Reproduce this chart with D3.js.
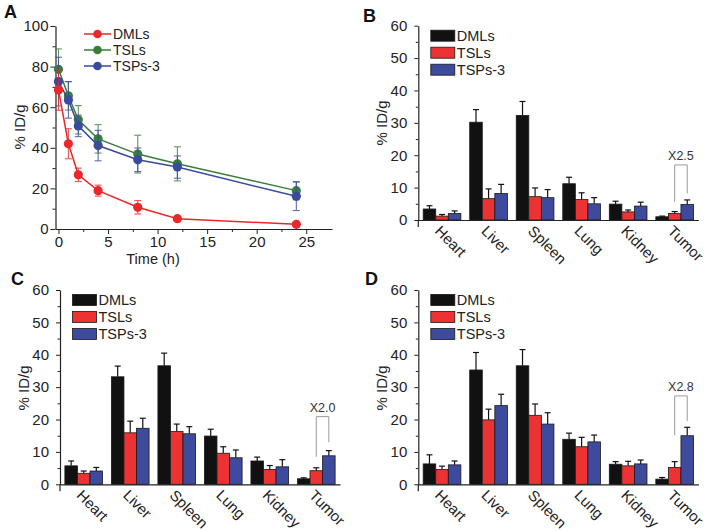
<!DOCTYPE html>
<html>
<head>
<meta charset="utf-8">
<script src="https://cdn.jsdelivr.net/npm/d3@7"></script>
<style>
  body { margin: 0; background: #fff; }
  svg { display: block; font-family: "Liberation Sans", Arial, sans-serif; }
</style>
</head>
<body>
<div id="chart"></div>
<script>
// ---- Data: panel A (blood clearance) ----
const times = [0, 1, 2, 4, 8, 12, 24]
const aDMLs = [68.5, 42, 26.7, 18.9, 10.7, 5.1, 2.3]
const aDMLsErr = [10, 7.4, 3.3, 2.7, 3.3, 1.0, 1.0]
const aTSLs = [78.7, 65.6, 53.8, 44.4, 36.9, 32.1, 18.9]
const aTSLsErr = [10, 7, 7, 7, 9.3, 8.4, 4.5]
const aTSPs = [72.6, 63.6, 50.8, 41.1, 34.1, 30.5, 16.1]
const aTSPsErr = [12, 9, 5.3, 7.5, 5.8, 5.5, 7]

// ---- Data: panels B, C, D (organ distribution) ----
const organs = ['Heart', 'Liver', 'Spleen', 'Lung', 'Kidney', 'Tumor']
const seriesNames = ['DMLs', 'TSLs', 'TSPs-3']

const bDMLs = [3.4, 30.2, 32.3, 11.2, 4.9, 1.0]
const bDMLsErr = [1.0, 3.9, 4.3, 2.0, 0.9, 0.2]
const bTSLs = [1.2, 6.6, 7.2, 6.3, 2.5, 2.0]
const bTSLsErr = [0.5, 3.0, 2.7, 2.1, 0.6, 0.6]
const bTSPs = [2.0, 8.2, 6.9, 5.0, 4.3, 4.8]
const bTSPsErr = [0.8, 2.8, 2.5, 1.9, 1.2, 1.4]

const cDMLs = [5.7, 33.2, 36.6, 14.9, 7.2, 1.7]
const cDMLsErr = [1.5, 3.3, 3.9, 2.1, 1.2, 0.3]
const cTSLs = [3.4, 15.9, 16.3, 9.6, 4.6, 4.2]
const cTSLsErr = [0.7, 3.6, 2.3, 2.0, 1.2, 0.9]
const cTSPs = [4.1, 17.3, 15.6, 8.2, 5.4, 8.8]
const cTSPsErr = [1.1, 3.1, 2.2, 2.4, 2.2, 1.6]

const dDMLs = [6.3, 35.3, 36.6, 13.9, 6.2, 1.6]
const dDMLsErr = [2.8, 5.4, 5.0, 1.9, 0.8, 0.5]
const dTSLs = [4.6, 19.9, 21.3, 11.6, 5.7, 5.2]
const dTSLsErr = [1.0, 3.3, 3.5, 2.9, 1.4, 1.8]
const dTSPs = [6.0, 24.3, 18.6, 13.1, 6.3, 15.0]
const dTSPsErr = [1.2, 3.5, 3.5, 2.1, 1.2, 2.6]

// tumor ratio bracket: label, top, left foot, right foot (in % ID/g)
const ratioLabels = ['X2.5', 'X2.0', 'X2.8']
const ratioTop = [17.0, 20.9, 27.3]
const ratioLeft = [5.6, 8.5, 15.2]
const ratioRight = [8.2, 13.0, 19.5]

const yTicksA = [0, 20, 40, 60, 80, 100]
const xTicksA = [0, 5, 10, 15, 20, 25]
const yTicksBar = [0, 10, 20, 30, 40, 50, 60]

// ---- Styles ----
const lineColors = { DMLs: '#e8282b', TSLs: '#3a7d3a', 'TSPs-3': '#3a4a9c' }
const barColors = { DMLs: '#111111', TSLs: '#ec3232', 'TSPs-3': '#3e4a9c' }

const svg = d3.select('#chart')
  .append('svg')
  .attr('width', 708)
  .attr('height', 531)

function styleAxis(g, fontSize) {
  g.selectAll('text')
    .attr('font-family', '"Liberation Sans", Arial, sans-serif')
    .attr('font-size', fontSize)
    .attr('fill', '#222')
  g.selectAll('line').attr('stroke', '#222')
  g.select('.domain').attr('stroke', '#222').attr('stroke-width', 1.2)
}

function panelLetter(txt, x, y) {
  svg.append('text')
    .attr('x', x).attr('y', y)
    .attr('font-size', 18)
    .attr('font-weight', 'bold')
    .attr('fill', '#111')
    .text(txt)
}

function yTitle(x, y) {
  svg.append('text')
    .attr('transform', `translate(${x},${y}) rotate(-90)`)
    .attr('text-anchor', 'middle')
    .attr('font-size', 15)
    .attr('fill', '#222')
    .text('% ID/g')
}

// ================= Panel A =================
{
  const left = 55.5, right = 332, top = 26, bottom = 229
  const x = d3.scaleLinear().domain([-0.3, 27.6]).range([left, right])
  const y = d3.scaleLinear().domain([0, 100]).range([bottom, top])

  // minor ticks
  svg.append('g')
    .attr('transform', `translate(${left},0)`)
    .call(d3.axisLeft(y).tickValues(d3.range(10, 100, 20)).tickSize(3).tickFormat(''))
    .call(g => { g.select('.domain').remove(); g.selectAll('line').attr('stroke', '#222') })
  svg.append('g')
    .attr('transform', `translate(0,${bottom})`)
    .call(d3.axisBottom(x).tickValues([2.5, 7.5, 12.5, 17.5, 22.5]).tickSize(3).tickFormat(''))
    .call(g => { g.select('.domain').remove(); g.selectAll('line').attr('stroke', '#222') })

  svg.append('g')
    .attr('transform', `translate(${left},0)`)
    .call(d3.axisLeft(y).tickValues(yTicksA).tickSize(5).tickSizeOuter(0).tickPadding(2))
    .call(g => styleAxis(g, 15))
  svg.append('g')
    .attr('transform', `translate(0,${bottom})`)
    .call(d3.axisBottom(x).tickValues(xTicksA).tickSize(5).tickSizeOuter(0).tickPadding(2))
    .call(g => styleAxis(g, 15))

  svg.append('text')
    .attr('x', 153).attr('y', 264)
    .attr('text-anchor', 'middle')
    .attr('font-size', 14.5)
    .attr('fill', '#222')
    .text('Time (h)')
  yTitle(25, 127)
  panelLetter('A', 4, 18)

  const series = [
    { name: 'TSLs', vals: aTSLs, errs: aTSLsErr },
    { name: 'TSPs-3', vals: aTSPs, errs: aTSPsErr },
    { name: 'DMLs', vals: aDMLs, errs: aDMLsErr }
  ]
  const line = d3.line().x(d => x(d.t)).y(d => y(d.v))

  series.forEach(s => {
    const pts = times.map((t, i) => ({ t, v: s.vals[i], e: s.errs[i] }))
    const col = lineColors[s.name]
    const g = svg.append('g')
    g.append('path')
      .datum(pts)
      .attr('d', line)
      .attr('fill', 'none')
      .attr('stroke', col)
      .attr('stroke-width', 1.5)
    const eb = g.selectAll('g.err').data(pts).join('g').attr('stroke', col).attr('stroke-width', 1.1).attr('opacity', 0.8)
    eb.append('line')
      .attr('x1', d => x(d.t)).attr('x2', d => x(d.t))
      .attr('y1', d => y(d.v - d.e)).attr('y2', d => y(d.v + d.e))
    eb.append('line')
      .attr('x1', d => x(d.t) - 3.5).attr('x2', d => x(d.t) + 3.5)
      .attr('y1', d => y(d.v + d.e)).attr('y2', d => y(d.v + d.e))
    eb.append('line')
      .attr('x1', d => x(d.t) - 3.5).attr('x2', d => x(d.t) + 3.5)
      .attr('y1', d => y(d.v - d.e)).attr('y2', d => y(d.v - d.e))
    g.selectAll('circle')
      .data(pts)
      .join('circle')
      .attr('cx', d => x(d.t))
      .attr('cy', d => y(d.v))
      .attr('r', 4.6)
      .attr('fill', col)
  })

  // legend
  const legRows = [34, 50, 66]
  seriesNames.forEach((name, i) => {
    const col = lineColors[name]
    const ly = legRows[i]
    svg.append('line')
      .attr('x1', 84).attr('x2', 111).attr('y1', ly).attr('y2', ly)
      .attr('stroke', col).attr('stroke-width', 1.5)
    svg.append('circle').attr('cx', 97.5).attr('cy', ly).attr('r', 4.3).attr('fill', col)
    svg.append('text')
      .attr('x', 113).attr('y', ly + 4.8)
      .attr('font-size', 14)
      .attr('fill', '#222')
      .text(name)
  })
}

// ================= Bar panels =================
function barPanel(opts) {
  const { left, right, top, bottom, vals, errs, k } = opts
  const x0 = d3.scaleBand().domain(organs).range([left, right]).paddingInner(0.19).paddingOuter(0.105)
  const x1 = d3.scaleBand().domain(seriesNames).range([0, x0.bandwidth()])
  const y = d3.scaleLinear().domain([0, 60]).range([bottom, top])

  // y minor ticks
  svg.append('g')
    .attr('transform', `translate(${left},0)`)
    .call(d3.axisLeft(y).tickValues(d3.range(5, 60, 10)).tickSize(2.5).tickFormat(''))
    .call(g => { g.select('.domain').remove(); g.selectAll('line').attr('stroke', '#222') })
  svg.append('g')
    .attr('transform', `translate(${left},0)`)
    .call(d3.axisLeft(y).tickValues(yTicksBar).tickSize(4).tickSizeOuter(0).tickPadding(7))
    .call(g => styleAxis(g, 15))

  // bars
  organs.forEach((org, oi) => {
    seriesNames.forEach((name, si) => {
      const v = vals[si][oi], e = errs[si][oi]
      const bx = x0(org) + x1(name)
      const bw = x1.bandwidth()
      svg.append('line')
        .attr('x1', bx + bw / 2).attr('x2', bx + bw / 2)
        .attr('y1', y(v)).attr('y2', y(v + e))
        .attr('stroke', '#111').attr('stroke-width', 1.2)
      svg.append('line')
        .attr('x1', bx + bw / 2 - 3).attr('x2', bx + bw / 2 + 3)
        .attr('y1', y(v + e)).attr('y2', y(v + e))
        .attr('stroke', '#111').attr('stroke-width', 1.2)
      svg.append('rect')
        .attr('x', bx).attr('width', bw)
        .attr('y', y(v)).attr('height', y(0) - y(v))
        .attr('fill', barColors[name])
        .attr('stroke', '#1a1a1a').attr('stroke-width', 0.8)
    })
  })

  // x axis (no ticks except left end)
  const xAxis = svg.append('g')
    .attr('transform', `translate(0,${bottom})`)
    .call(d3.axisBottom(x0).tickSize(0).tickSizeOuter(0).tickFormat(''))
  xAxis.select('.domain').attr('stroke', '#222').attr('stroke-width', 1.2)
  svg.append('line')
    .attr('x1', left).attr('x2', left).attr('y1', bottom).attr('y2', bottom + 7)
    .attr('stroke', '#222').attr('stroke-width', 1.2)

  svg.selectAll(null)
    .data(organs)
    .join('text')
    .attr('class', 'organ')
    .attr('transform', d => `translate(${x0(d) + x0.bandwidth() / 2 - 8},${bottom + 12}) rotate(45)`)
    .attr('font-size', 15)
    .attr('fill', '#222')
    .text(d => d)

  // ratio bracket on tumor
  const redX = x0('Tumor') + x1('TSLs') + x1.bandwidth() / 2
  const blueX = x0('Tumor') + x1('TSPs-3') + x1.bandwidth() / 2
  svg.append('path')
    .attr('d', `M${redX},${y(ratioLeft[k])}V${y(ratioTop[k])}H${blueX}V${y(ratioRight[k])}`)
    .attr('fill', 'none')
    .attr('stroke', '#9a9a9a')
    .attr('stroke-width', 1)
  svg.append('text')
    .attr('x', (redX + blueX) / 2)
    .attr('y', y(ratioTop[k]) - 5)
    .attr('text-anchor', 'middle')
    .attr('font-size', 12.5)
    .attr('fill', '#333')
    .text(ratioLabels[k])

  // legend
  seriesNames.forEach((name, i) => {
    const ly = top + 10 + i * 17
    svg.append('rect')
      .attr('x', left + 12.5).attr('y', ly - 5.5)
      .attr('width', 24).attr('height', 11)
      .attr('fill', barColors[name])
      .attr('stroke', '#1a1a1a').attr('stroke-width', 0.8)
    svg.append('text')
      .attr('x', left + 38.5).attr('y', ly + 5)
      .attr('font-size', 14.5)
      .attr('fill', '#222')
      .text(name)
  })
}

barPanel({ left: 418.3, right: 698.4, top: 25.7, bottom: 220, k: 0,
  vals: [bDMLs, bTSLs, bTSPs], errs: [bDMLsErr, bTSLsErr, bTSPsErr] })
yTitle(387, 123)
panelLetter('B', 363, 22)

barPanel({ left: 60, right: 340, top: 290, bottom: 484.3, k: 1,
  vals: [cDMLs, cTSLs, cTSPs], errs: [cDMLsErr, cTSLsErr, cTSPsErr] })
yTitle(28.5, 388)
panelLetter('C', 11, 285)

barPanel({ left: 418.3, right: 698.4, top: 290, bottom: 484.3, k: 2,
  vals: [dDMLs, dTSLs, dTSPs], errs: [dDMLsErr, dTSLsErr, dTSPsErr] })
yTitle(387, 388)
panelLetter('D', 365, 285)
</script>
</body>
</html>
